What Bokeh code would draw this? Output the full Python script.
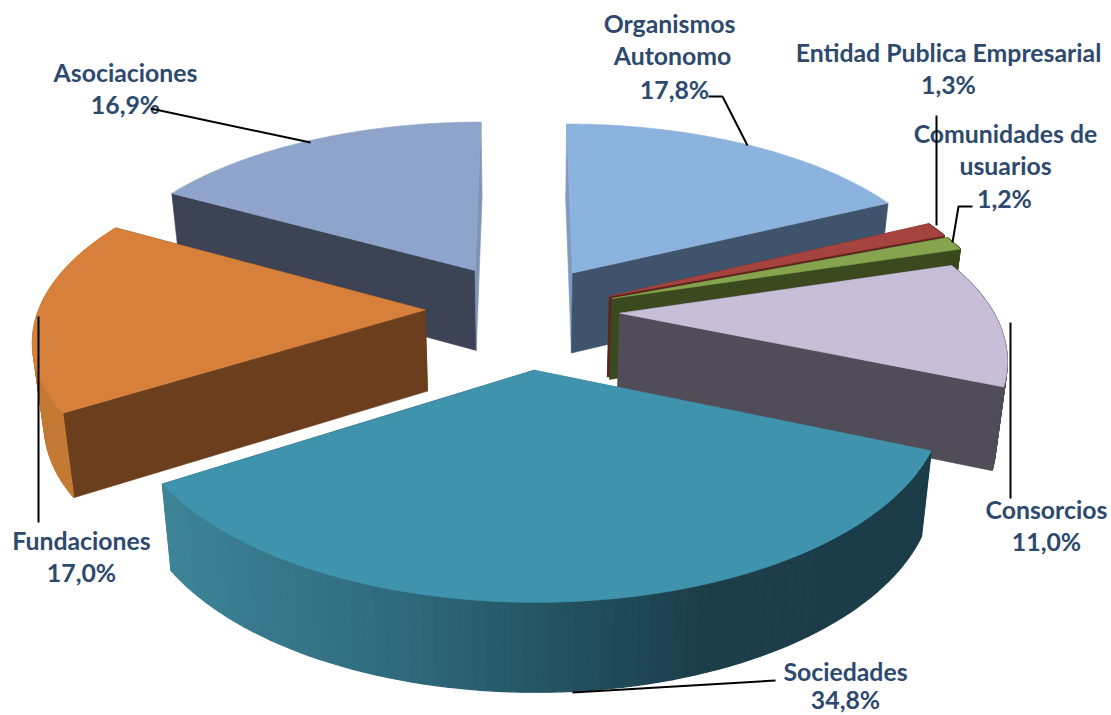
import numpy as np
from bokeh.plotting import figure
from bokeh.embed import file_html
from bokeh.resources import INLINE
from bokeh.core.properties import value

# ---- data
names = ["Organismos Autonomo", "Entidad Publica Empresarial", "Comunidades de usuarios",
         "Consorcios", "Sociedades", "Fundaciones", "Asociaciones"]
shares = [17.8, 1.3, 1.2, 11.0, 34.8, 17.0, 16.9]
explode_x = [0.128, 0.222, 0.228, 0.246, 0.024, -0.257, -0.132]
explode_y = [0.345, 0.211, 0.198, 0.116, -0.186, 0.134, 0.36]
rim_trim = [0, 0, 0, 0.06, 0, 0, 0]
top_colors = ["#8cb2de", "#a5443f", "#86a34d", "#c8bed8", "#4093ac", "#d6803b", "#8fa4cb"]
cut_start = ["#7f9cc0", "#5e2320", "#3a4a1e", "#514d58", "#3c8297", "#6b3f1e", "#3c4354"]
cut_end = ["#3f546c", "#5e2320", "#3a4a1e", "#514d58", "#1b3d49", "#6b3f1e", "#7f95b8"]
wall_colors = ["", "#5e2320", "#3a4a1e", "#514d58", None, "#c47a34", ""]
paint_order = [6, 0, 1, 2, 3, 5, 4]
label_lines = ["Organismos", "Autonomo", "17,8%", "Entidad Publica Empresarial", "1,3%",
               "Comunidades de", "usuarios", "1,2%", "Consorcios", "11,0%",
               "Sociedades", "34,8%", "Fundaciones", "17,0%", "Asociaciones", "16,9%"]

# ---- projection of the tilted pie (perspective)
CX, CY, AX, BY, K = 524.0, 334.0, 394.0, 187.0, 0.145
H, K2, SHRINK = 82.0, 0.074, 0.976
grad_x = [160, 400, 550, 700, 930]
grad_c = [(0x3d, 0x84, 0x98), (0x2f, 0x6a, 0x7c), (0x24, 0x53, 0x62), (0x1c, 0x3e, 0x4a), (0x1b, 0x3c, 0x48)]


def top(X, Y):
    w = 1 + K * Y
    return CX + AX * X / w, CY - BY * Y / w


def bottom(X, Y):
    sx, sy = top(X, Y)
    return CX + (sx - CX) * SHRINK, sy + H / (1 + K2 * Y)


def grad(x):
    return "#%02x%02x%02x" % tuple(int(round(np.interp(x, grad_x, [c[i] for c in grad_c]))) for i in range(3))


W, HGT = 1111, 715
p = figure(width=W, height=HGT, x_range=(0, W), y_range=(HGT, 0), output_backend="svg",
           toolbar_location=None, min_border=0, outline_line_color=None, background_fill_color="white")
p.axis.visible = False
p.grid.visible = False

edges = np.cumsum([0] + shares) / sum(shares) * 2 * np.pi


def poly(xs, ys, color, lw=0.6):
    p.patch(list(xs), list(ys), fill_color=color, line_color=color, line_width=lw)


for i in paint_order:
    a0, a1 = edges[i], edges[i + 1]
    ox, oy = explode_x[i], explode_y[i]
    t = np.linspace(a0, a1, 81)
    r = 1 - rim_trim[i] * (1 - (t - a0) / (a1 - a0))
    X, Y = ox + r * np.sin(t), oy + r * np.cos(t)
    tx, ty = top(X, Y)
    bx, by = bottom(X, Y)
    ax, ay = top(ox, oy)
    abx, aby = bottom(ox, oy)
    # radial cut faces
    for j, col in ((0, cut_start[i]), (-1, cut_end[i])):
        poly([ax, tx[j], bx[j], abx], [ay, ty[j], by[j], aby], col)
    # outer wall (front-facing slices only)
    if wall_colors[i] != "":
        for j in range(len(t) - 1):
            c = wall_colors[i] or grad((tx[j] + tx[j + 1]) / 2)
            poly([tx[j], tx[j + 1], bx[j + 1], bx[j]], [ty[j], ty[j + 1], by[j + 1], by[j]], c, 1.2)
    # top face
    poly([ax, *tx], [ay, *ty], top_colors[i])

# ---- labels
label_x = [669, 672, 674, 948, 948, 1005, 1005, 1004, 1046, 1046, 845, 845, 81, 81, 125, 125]
label_y = [23, 55, 89, 52, 84, 133, 165, 198, 509, 541, 671, 699, 540, 572, 72, 104]
p.text(label_x, label_y, text=label_lines, text_font=value("Lato"), text_font_style="bold",
       text_font_size="24.8px", text_color="#2d4a6e", text_align="center", text_baseline="middle")

# ---- leader lines
leaders = [([708, 722, 747], [96, 96, 145]),
           ([936, 936], [115, 225]),
           ([972, 958, 952], [206, 206, 242]),
           ([1010, 1010], [322, 498]),
           ([775, 572], [680, 692]),
           ([38, 38], [316, 522]),
           ([150, 310], [108, 142])]
for lx, ly in leaders:
    p.line(lx, ly, line_color="#000000", line_width=2)

open("out.html", "w").write(file_html(p, INLINE))
